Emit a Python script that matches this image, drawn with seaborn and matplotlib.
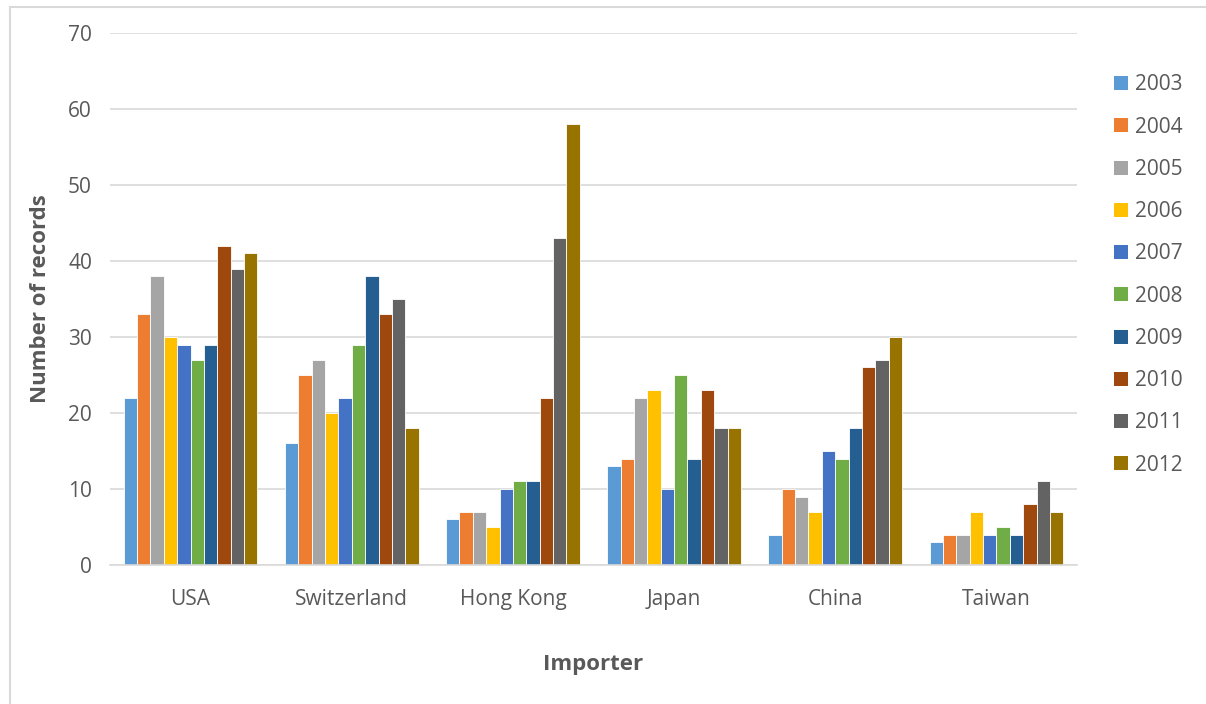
import matplotlib
matplotlib.use("Agg")
import matplotlib.pyplot as plt
from matplotlib.lines import Line2D
from matplotlib.patches import Patch
import seaborn as sns
import pandas as pd

importers = ["USA", "Switzerland", "Hong Kong", "Japan", "China", "Taiwan"]
years = ["2003", "2004", "2005", "2006", "2007", "2008", "2009", "2010", "2011", "2012"]

# Number of records per importer, one list per year
rec_2003 = [22, 16, 6, 13, 4, 3]
rec_2004 = [33, 25, 7, 14, 10, 4]
rec_2005 = [38, 27, 7, 22, 9, 4]
rec_2006 = [30, 20, 5, 23, 7, 7]
rec_2007 = [29, 22, 10, 10, 15, 4]
rec_2008 = [27, 29, 11, 25, 14, 5]
rec_2009 = [29, 38, 11, 14, 18, 4]
rec_2010 = [42, 33, 22, 23, 26, 8]
rec_2011 = [39, 35, 43, 18, 27, 11]
rec_2012 = [41, 18, 58, 18, 30, 7]

series = [rec_2003, rec_2004, rec_2005, rec_2006, rec_2007,
          rec_2008, rec_2009, rec_2010, rec_2011, rec_2012]

colors = ["#5B9BD5", "#ED7D31", "#A5A5A5", "#FFC000", "#4472C4",
          "#70AD47", "#255E91", "#9E480E", "#636363", "#997300"]

rows = []
for yr, vals in zip(years, series):
    for imp, v in zip(importers, vals):
        rows.append({"Importer": imp, "Year": yr, "Records": v})
df = pd.DataFrame(rows)

sns.set_theme(style="white")
plt.rcParams["font.family"] = ["Open Sans", "DejaVu Sans"]

text_col = "#595959"
grid_col = "#D9D9D9"

fig = plt.figure(figsize=(12.06, 7.04), dpi=100)
ax = fig.add_axes([110 / 1206, 139 / 704, (1077 - 110) / 1206, (565 - 33) / 704])

sns.barplot(data=df, x="Importer", y="Records", hue="Year", order=importers,
            hue_order=years, palette=colors, width=0.83, saturation=1,
            edgecolor="white", linewidth=0.6, errorbar=None, ax=ax, legend=False)

ax.set_ylim(0, 70)
ax.set_xlim(-0.5, len(importers) - 0.5)
ax.set_yticks(range(0, 71, 10))
ax.yaxis.grid(True, color=grid_col, linewidth=1.2)
ax.set_axisbelow(True)
for s in ["top", "right", "left"]:
    ax.spines[s].set_visible(False)
ax.spines["bottom"].set_color(grid_col)
ax.spines["bottom"].set_linewidth(1.2)
ax.tick_params(axis="both", length=0, colors=text_col, labelsize=15)
ax.tick_params(axis="y", pad=13)
ax.tick_params(axis="x", pad=17)

ax.set_xlabel("Importer", fontsize=16, fontweight="bold", color=text_col, labelpad=32)
ax.set_ylabel("Number of records", fontsize=16, fontweight="bold", color=text_col, labelpad=12)

handles = [Patch(facecolor=c, edgecolor="none") for c in colors]
leg = fig.legend(handles, years, loc="upper left", bbox_to_anchor=(1104 / 1206, 1 - 64 / 704),
                 frameon=False, fontsize=15, labelspacing=1.02, handlelength=0.65,
                 handleheight=0.65, handletextpad=0.35, borderpad=0)
for t in leg.get_texts():
    t.set_color(text_col)

# chart area frame
fig.add_artist(Line2D([10 / 1206, 10 / 1206], [0, 1 - 7 / 704], color=grid_col,
                      linewidth=1.5, transform=fig.transFigure))
fig.add_artist(Line2D([10 / 1206, 1], [1 - 7 / 704, 1 - 7 / 704], color=grid_col,
                      linewidth=1.5, transform=fig.transFigure))

fig.savefig("out.png", dpi=100, facecolor="white")
